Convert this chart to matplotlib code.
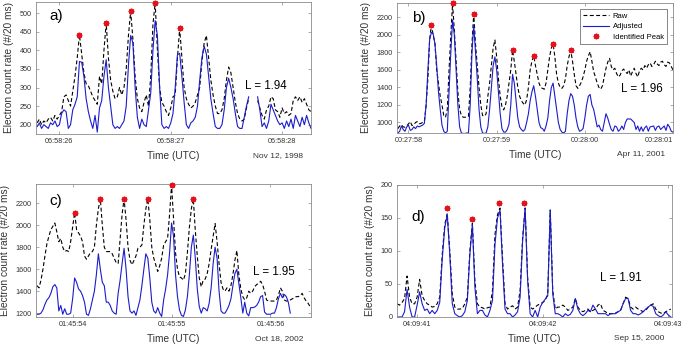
import numpy as np
import matplotlib
matplotlib.use('Agg')
import matplotlib.pyplot as plt

plt.rcParams['font.family'] = ['Liberation Sans', 'DejaVu Sans']

nan = np.nan
DT = 0.02  # 20 ms bins

# ---- a) Nov 12, 1998, seconds after 06:58 ----
a_t0 = 25.80
a_raw = [205, 215, 200, 210, 205, 215, 220, 210, 225, 215,
         225, 235, 275, 280, 265, 250, 290, 330, 380, 442,
         390, 340, 310, 305, 290, 275, 265, 255, 330, 310,
         400, 474, 380, 320, 290, 270, 275, 300, 280, 300,
         350, 440, 505, 430, 330, 270, 245, 235, 260, 280,
         250, 330, 470, 528, 400, 300, 260, 250, 235, 225,
         245, 275, 280, 380, 459, 380, 300, 270, 255, 245,
         250, 260, 280, 300, 370, 420, 440, 380, 320, 280,
         250, 230, 230, 240, 270, 320, 355, 340, 300, 260,
         230, 215, 210, 215, 245, 270, nan, nan, nan, 265,
         245, 225, 215, 240, 250, 275, 270, 240, 235, 220,
         245, 230, 235, 225, 230, 265, 275, 265, 275, 260,
         270, 255, 240, 235]
a_adj = [195, 205, 190, 200, 195, 190, 205, 200, 210, 195,
         200, 230, 240, 235, 190, 200, 240, 255, 275, 370,
         368, 330, 270, 235, 210, 190, 225, 180, 245, 265,
         330, 375, 300, 250, 200, 190, 195, 190, 200, 210,
         250, 360, 440, 420, 300, 220, 190, 215, 200, 195,
         240, 285, 400, 480, 440, 300, 200, 190, 195, 190,
         205, 230, 300, 388, 392, 330, 260, 200, 190, 205,
         210, 220, 250, 320, 380, 411, 390, 330, 270, 230,
         195, 190, 190, 200, 240, 300, 325, 300, 270, 230,
         195, 190, 190, 220, 250, 275, nan, nan, nan, 275,
         240, 195, 205, 190, 210, 255, 240, 225, 210, 200,
         205, 190, 210, 195, 215, 190, 225, 210, 195, 220,
         200, 225, 205, 190]
a_peak_t = [26.18, 26.42, 26.64, 26.86, 27.08]
a_peak_v = [442, 474, 505, 528, 459]

# ---- b) Apr 11, 2001, seconds after 00:27 ----
b_t0 = 57.88
b_raw = [930, 960, 975, 950, 945, 960, 985, 1010, 965, 975,
         1000, 1010, 985, 990, 1000, 1010, 1200, 1500, 1950, 2112,
         2000, 1900, 1600, 1450, 1300, 1200, 1080, 1060, 1150, 1600,
         2000, 2360, 2050, 1700, 1350, 1150, 1080, 1060, 1060, 1060,
         1070, 1400, 1900, 2245, 1900, 1650, 1400, 1200, 1080, 1070,
         1100, 1300, 1450, 1650, 1850, 1942, 1750, 1500, 1300, 1180,
         1144, 1200, 1300, 1450, 1600, 1828, 1700, 1550, 1400, 1300,
         1250, 1220, 1200, 1260, 1400, 1600, 1700, 1763, 1650, 1550,
         1450, 1400, 1390, 1380, 1450, 1600, 1750, 1850, 1896, 1750,
         1550, 1450, 1400, 1390, 1420, 1500, 1650, 1750, 1828, 1700,
         1550, 1420, 1390, 1420, 1460, 1520, 1600, 1700, 1760, 1809,
         1700, 1580, 1520, 1450, 1400, 1380, 1420, 1520, 1620, 1690,
         1733, 1640, 1600, 1620, 1560, 1520, 1540, 1590, 1610, 1580,
         1560, 1600, 1530, 1580, 1620, 1560, 1520, 1590, 1620, 1600,
         1650, 1620, 1660, 1680, 1640, 1660, 1700, 1670, 1650, 1690,
         1700, 1660, 1640, 1690, 1680, 1640, 1600]
b_adj = [880, 900, 960, 920, 900, 950, 970, 910, 920, 950,
         930, 960, 950, 960, 970, 990, 1200, 1600, 1950, 2030,
         2010, 1900, 1650, 1350, 1150, 970, 900, 880, 900, 1350,
         1800, 2170, 2000, 1600, 1200, 950, 880, 875, 875, 880,
         880, 1200, 1800, 2110, 1800, 1500, 1150, 950, 880, 875,
         880, 950, 1150, 1400, 1650, 1750, 1600, 1350, 1100, 930,
         890, 890, 920, 980, 1200, 1550, 1450, 1250, 1050, 950,
         920, 900, 920, 1000, 1100, 1250, 1350, 1420, 1300, 1150,
         1000, 940, 930, 900, 960, 1050, 1250, 1400, 1450, 1300,
         1150, 1000, 920, 890, 880, 900, 1100, 1250, 1330, 1300,
         1200, 1050, 950, 900, 910, 930, 1050, 1200, 1300, 1320,
         1200, 1150, 1050, 950, 970, 920, 900, 1000, 1100, 1050,
         980, 920, 900, 960, 950, 900, 920, 960, 920, 1000,
         1040, 1040, 1040, 1020, 1000, 920, 960, 900, 950, 900,
         940, 960, 900, 950, 955, 960, 910, 950, 960, 920,
         940, 960, 910, 980, 950, 900, 890]
b_peak_t = [58.26, 58.50, 58.74, 59.18, 59.42, 59.64, 59.84]
b_peak_v = [2112, 2360, 2245, 1828, 1763, 1896, 1828]

# ---- c) Oct 18, 2002, seconds after 01:45 ----
c_t0 = 53.64
c_raw = [1450, 1430, 1500, 1600, 1720, 1830, 1900, 1960, 1990, 2020,
         1940, 1850, 1880, 1800, 1760, 1770, 1760, 1850, 1980, 2115,
         1960, 1930, 1900, 1850, 1720, 1690, 1720, 1750, 1760, 1800,
         2000, 2150, 2240, 2000, 1800, 1760, 1760, 1760, 1740, 1700,
         1660, 1650, 1880, 2100, 2240, 2050, 1800, 1680, 1640, 1680,
         1720, 1790, 1800, 1820, 2000, 2150, 2240, 2050, 1800, 1700,
         1640, 1580, 1630, 1700, 1820, 1850, 1880, 2100, 2367, 2050,
         1750, 1600, 1530, 1520, 1500, 1560, 1750, 1980, 2150, 2240,
         1950, 1720, 1520, 1440, 1500, 1510, 1560, 1650, 1780, 1900,
         2015, 1850, 1650, 1480, 1420, 1400, 1430, 1400, 1450, 1550,
         1680, 1770, 1550, 1420, 1350, 1320, 1340, 1400, 1380, 1400,
         1440, 1460, 1470, 1490, 1460, 1400, 1320, 1310, 1310, 1310,
         1310, 1320, 1360, 1430, 1400, 1320, 1310, 1310, 1320, 1330,
         1340, 1350, 1350, 1360, 1380, 1340, 1310, 1290, 1260]
c_adj = [1190, 1190, 1200, 1230, 1280, 1320, 1340, 1380, 1440, 1460,
         1430, 1220, 1270, 1190, 1240, 1190, 1190, 1200, 1330, 1520,
         1480, 1420, 1400, 1360, 1300, 1190, 1180, 1240, 1320, 1400,
         1550, 1740, 1600, 1480, 1450, 1300, 1300, 1270, 1220, 1200,
         1190, 1380, 1500, 1650, 1790, 1600, 1350, 1220, 1200, 1220,
         1180, 1250, 1320, 1450, 1600, 1740, 1700, 1520, 1300, 1220,
         1200, 1250, 1200, 1170, 1320, 1420, 1550, 1750, 2020, 1900,
         1550, 1350, 1230, 1180, 1170, 1230, 1350, 1550, 1800, 1910,
         1700, 1420, 1260, 1200, 1250, 1240, 1220, 1290, 1430, 1650,
         1800, 1700, 1400, 1220, 1200, 1200, 1230, 1270, 1330, 1450,
         1560, 1600, 1470, 1340, 1200, 1300, 1200, 1175, 1250, 1250,
         1255, 1270, 1300, 1350, 1360, 1210, 1190, 1190, 1190, 1200,
         1200, 1250, 1330, 1380, 1340, 1370, 1350, 1300, 1200]
c_peak_t = [54.02, 54.28, 54.52, 54.76, 55.00, 55.22]
c_peak_v = [2115, 2240, 2240, 2240, 2367, 2240]

# ---- d) Sep 15, 2000, seconds after 04:09 ----
d_t0 = 40.84
d_raw = [20, 18, 22, 28, 62, 30, 20, 20, 30, 57,
         32, 25, 20, 18, 15, 16, 20, 30, 95, 140,
         157, 100, 35, 15, 12, 12, 13, 20, 30, 100,
         142, 55, 20, 15, 14, 12, 14, 15, 40, 125,
         155, 165, 90, 20, 12, 15, 17, 12, 15, 40,
         120, 165, 60, 15, 12, 15, 18, 20, 22, 25,
         35, 162, 40, 12, 15, 15, 18, 15, 10, 12,
         15, 28, 15, 10, 8, 10, 12, 8, 10, 12,
         18, 20, 10, 8, 5, 5, 5, 6, 8, 10,
         20, 30, 28, 15, 12, 15, 12, 10, 8, 10,
         15, 18, 20, 12, 8, 6, 5, 8, 10, 12]
d_adj = [0, 0, 0, 8, 42, 15, 0, 0, 18, 38,
         20, 10, 12, 5, 10, 5, 10, 22, 88, 135,
         155, 95, 20, 5, 2, 0, 2, 8, 25, 95,
         140, 45, 5, 10, 10, 3, 0, 10, 25, 110,
         150, 162, 80, 12, 5, 5, 0, 3, 8, 30,
         115, 165, 55, 5, 0, 10, 0, 15, 22, 27,
         32, 162, 35, 5, 5, 3, 0, 5, 2, 4,
         10, 28, 12, 5, 2, 5, 10, 8, 18, 12,
         5, 5, 5, 5, 2, 5, 5, 5, 8, 10,
         20, 28, 28, 10, 5, 5, 3, 5, 8, 12,
         15, 18, 16, 5, 2, 0, 3, 8, 3, 0]
d_peak_t = [41.24, 41.44, 41.65, 41.85]
d_peak_v = [165, 148, 172, 172]

BLUE = '#1c1ccc'
AXC = '#8a8a8a'
TXC = '#333333'


def panel(ax, t0, raw, adj, pk_t, pk_v, xlim, ylim, yticks, xticks, xlabels,
          date, tag, tag_xy, L, L_xy):
    t_raw = t0 + DT * np.arange(len(raw))
    t_adj = t0 + DT * np.arange(len(adj))
    ax.plot(t_raw, raw, color='k', ls=(0, (3.5, 2.2)), lw=0.8, label='Raw')
    ax.plot(t_adj, adj, color=BLUE, lw=0.8, label='Adjusted')
    ax.plot(pk_t, pk_v, ls='none', marker=(8, 2, 0), ms=4, mew=1.1,
            color='#e8101a', label='Identified Peak', clip_on=False, zorder=5)
    ax.set_xlim(*xlim)
    ax.set_ylim(*ylim)
    ax.set_yticks(yticks)
    ax.set_xticks(xticks)
    ax.set_xticklabels(xlabels)
    ax.tick_params(direction='in', length=2.5, width=0.5, top=True, right=True,
                   labelsize=5.2, colors=AXC, labelcolor=TXC, pad=3)
    for s in ax.spines.values():
        s.set_color(AXC)
        s.set_linewidth(0.6)
    ax.set_xlabel('Time (UTC)', fontsize=7.3, color=TXC, labelpad=4.5)
    ax.set_ylabel('Electron count rate (#/20 ms)', fontsize=7.3, color=TXC,
                  labelpad=4)
    ax.text(0.971, -0.165, date, transform=ax.transAxes, ha='right',
            va='center', fontsize=6, color=TXC)
    ax.text(tag_xy[0], tag_xy[1], tag, transform=ax.transAxes, ha='left',
            va='center', fontsize=11, color='k')
    ax.text(L_xy[0], L_xy[1], L, transform=ax.transAxes, ha='center',
            va='center', fontsize=8.3, color='k')


fig = plt.figure(figsize=(6.85, 3.45), dpi=100)
ax_a = fig.add_axes([0.0526, 0.6116, 0.4015, 0.3826])
ax_b = fig.add_axes([0.5796, 0.6145, 0.4029, 0.3768])
ax_c = fig.add_axes([0.0526, 0.0812, 0.4015, 0.3855])
ax_d = fig.add_axes([0.5796, 0.0812, 0.4015, 0.3826])

panel(ax_a, a_t0, a_raw, a_adj, a_peak_t, a_peak_v, (25.79, 28.26), (175, 530),
      np.arange(200, 501, 50), [26, 27, 28],
      ['06:58:26', '06:58:27', '06:58:28'], 'Nov 12, 1998',
      'a)', (0.05, 0.895), 'L = 1.94', (0.836, 0.36))
panel(ax_b, b_t0, b_raw, b_adj, b_peak_t, b_peak_v, (57.87, 61.0), (880, 2365),
      np.arange(1000, 2201, 200), [58, 59, 60, 61],
      ['00:27:58', '00:27:59', '00:28:00', '00:28:01'], 'Apr 11, 2001',
      'b)', (0.053, 0.885), 'L = 1.96', (0.888, 0.336))
panel(ax_c, c_t0, c_raw, c_adj, c_peak_t, c_peak_v, (53.63, 56.41), (1165, 2375),
      np.arange(1200, 2201, 200), [54, 55, 56],
      ['01:45:54', '01:45:55', '01:45:56'], 'Oct 18, 2002',
      'c)', (0.048, 0.875), 'L = 1.95', (0.864, 0.34))
panel(ax_d, d_t0, d_raw, d_adj, d_peak_t, d_peak_v, (40.84, 43.03), (0, 200),
      np.arange(0, 201, 50), [41, 42, 43],
      ['04:09:41', '04:09:42', '04:09:43'], 'Sep 15, 2000',
      'd)', (0.053, 0.76), 'L = 1.91', (0.813, 0.293))

# last tick label of b sits on the figure edge, keep it inside
ax_b.get_xticklabels()[-1].set_horizontalalignment('right')

leg = ax_b.legend(loc='upper right', fontsize=5.5, handlelength=3.4,
                  fancybox=False, framealpha=1, edgecolor='#555555',
                  borderaxespad=0.8, labelspacing=0.45, handletextpad=0.5,
                  borderpad=0.4)
leg.get_frame().set_linewidth(0.5)

fig.savefig('out.png', dpi=100)
